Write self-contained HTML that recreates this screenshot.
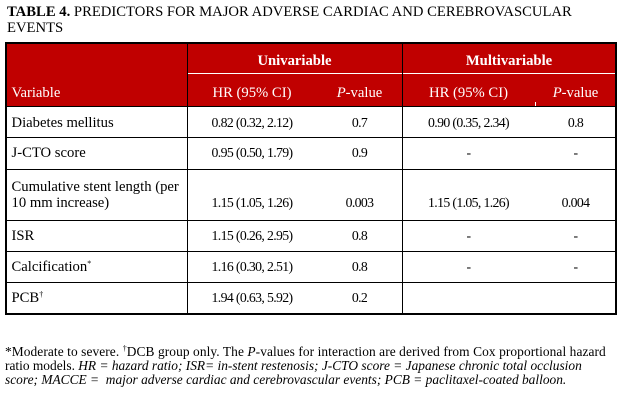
<!DOCTYPE html>
<html><head><meta charset="utf-8">
<style>
html,body{margin:0;padding:0;background:#fff;}
body{width:626px;height:404px;position:relative;overflow:hidden;font-family:"Liberation Serif","Times New Roman",serif;color:#000;}
.a{position:absolute;white-space:nowrap;line-height:16px;}
.t{font-size:14.67px;}
.n{font-size:13.8px;letter-spacing:-0.65px;text-align:center;}
.w{color:#fff;font-size:14.67px;text-align:center;}
.h{position:absolute;background:#000;height:1px;}
.v{position:absolute;background:#000;width:1px;}
.f{position:absolute;white-space:nowrap;font-size:13.4px;line-height:14px;left:5px;}
sup{font-size:8px;vertical-align:0;position:relative;top:-5px;line-height:0;}
</style></head><body>

<!-- Title -->
<div class="a t" style="left:7px;top:3.75px;"><b>TABLE 4.</b> PREDICTORS FOR MAJOR ADVERSE CARDIAC AND CEREBROVASCULAR<br>EVENTS</div>

<!-- header background -->
<div style="position:absolute;left:5px;top:42px;width:611px;height:65px;background:#C00000;"></div>
<!-- white line under group headers -->
<div style="position:absolute;left:188px;top:73px;width:428px;height:1px;background:#fff;"></div>
<!-- small white tick -->
<div style="position:absolute;left:535px;top:102px;width:1px;height:4px;background:#fff;"></div>

<!-- horizontal lines -->
<div class="h" style="left:5px;top:42px;width:612px;height:1.5px;"></div>
<div class="h" style="left:5px;top:106px;width:612px;"></div>
<div class="h" style="left:5px;top:137px;width:612px;"></div>
<div class="h" style="left:5px;top:169px;width:612px;"></div>
<div class="h" style="left:5px;top:220px;width:612px;"></div>
<div class="h" style="left:5px;top:251px;width:612px;"></div>
<div class="h" style="left:5px;top:282px;width:612px;"></div>
<div class="h" style="left:5px;top:313px;width:612px;height:1.5px;"></div>

<!-- vertical lines -->
<div class="v" style="left:5px;top:42px;height:272px;width:1.5px;"></div>
<div class="v" style="left:187px;top:42px;height:272px;"></div>
<div class="v" style="left:402px;top:42px;height:272px;"></div>
<div class="v" style="left:615px;top:42px;height:272px;width:1.5px;"></div>

<!-- Header text -->
<div class="a w" style="left:187px;width:215px;top:52.5px;"><b>Univariable</b></div>
<div class="a w" style="left:402px;width:214px;top:52.5px;"><b>Multivariable</b></div>
<div class="a" style="left:11.5px;top:85px;color:#fff;font-size:14.67px;">Variable</div>
<div class="a w" style="left:192px;width:120px;top:85px;">HR (95% CI)</div>
<div class="a w" style="left:319.5px;width:80px;top:85px;"><i>P</i>-value</div>
<div class="a w" style="left:408.5px;width:120px;top:85px;">HR (95% CI)</div>
<div class="a w" style="left:535.5px;width:80px;top:85px;"><i>P</i>-value</div>

<!-- Row labels -->
<div class="a t" style="left:11.5px;top:114.5px;">Diabetes mellitus</div>
<div class="a t" style="left:11.5px;top:144.8px;">J-CTO score</div>
<div class="a t" style="left:11.5px;top:179px;">Cumulative stent length (per</div>
<div class="a t" style="left:11.5px;top:195px;">10 mm increase)</div>
<div class="a t" style="left:11.5px;top:227.8px;">ISR</div>
<div class="a t" style="left:11.5px;top:258.8px;">Calcification<sup>*</sup></div>
<div class="a t" style="left:11.5px;top:289.5px;">PCB<sup>†</sup></div>

<!-- Univariable HR -->
<div class="a n" style="left:192px;width:120px;top:114.8px;">0.82 (0.32, 2.12)</div>
<div class="a n" style="left:192px;width:120px;top:145.1px;">0.95 (0.50, 1.79)</div>
<div class="a n" style="left:192px;width:120px;top:195.3px;">1.15 (1.05, 1.26)</div>
<div class="a n" style="left:192px;width:120px;top:228.1px;">1.15 (0.26, 2.95)</div>
<div class="a n" style="left:192px;width:120px;top:259.1px;">1.16 (0.30, 2.51)</div>
<div class="a n" style="left:192px;width:120px;top:289.8px;">1.94 (0.63, 5.92)</div>

<!-- Univariable P -->
<div class="a n" style="left:319.5px;width:80px;top:114.8px;">0.7</div>
<div class="a n" style="left:319.5px;width:80px;top:145.1px;">0.9</div>
<div class="a n" style="left:319.5px;width:80px;top:195.3px;">0.003</div>
<div class="a n" style="left:319.5px;width:80px;top:228.1px;">0.8</div>
<div class="a n" style="left:319.5px;width:80px;top:259.1px;">0.8</div>
<div class="a n" style="left:319.5px;width:80px;top:289.8px;">0.2</div>

<!-- Multivariable HR -->
<div class="a n" style="left:408.5px;width:120px;top:114.8px;">0.90 (0.35, 2.34)</div>
<div class="a n" style="left:408.5px;width:120px;top:145.1px;">-</div>
<div class="a n" style="left:408.5px;width:120px;top:195.3px;">1.15 (1.05, 1.26)</div>
<div class="a n" style="left:408.5px;width:120px;top:228.1px;">-</div>
<div class="a n" style="left:408.5px;width:120px;top:259.1px;">-</div>

<!-- Multivariable P -->
<div class="a n" style="left:535.5px;width:80px;top:114.8px;">0.8</div>
<div class="a n" style="left:535.5px;width:80px;top:145.1px;">-</div>
<div class="a n" style="left:535.5px;width:80px;top:195.3px;">0.004</div>
<div class="a n" style="left:535.5px;width:80px;top:228.1px;">-</div>
<div class="a n" style="left:535.5px;width:80px;top:259.1px;">-</div>

<!-- Footer -->
<div class="f" style="top:345px;letter-spacing:0.08px;">*Moderate to severe. <sup>†</sup>DCB group only. The <i>P</i>-values for interaction are derived from Cox proportional hazard</div>
<div class="f" style="top:359px;">ratio models. <i>HR = hazard ratio; ISR= in-stent restenosis; J-CTO score = Japanese chronic total occlusion</i></div>
<div class="f" style="top:373px;"><i>score; MACCE = &nbsp;major adverse cardiac and cerebrovascular events; PCB = paclitaxel-coated balloon.</i></div>

</body></html>
